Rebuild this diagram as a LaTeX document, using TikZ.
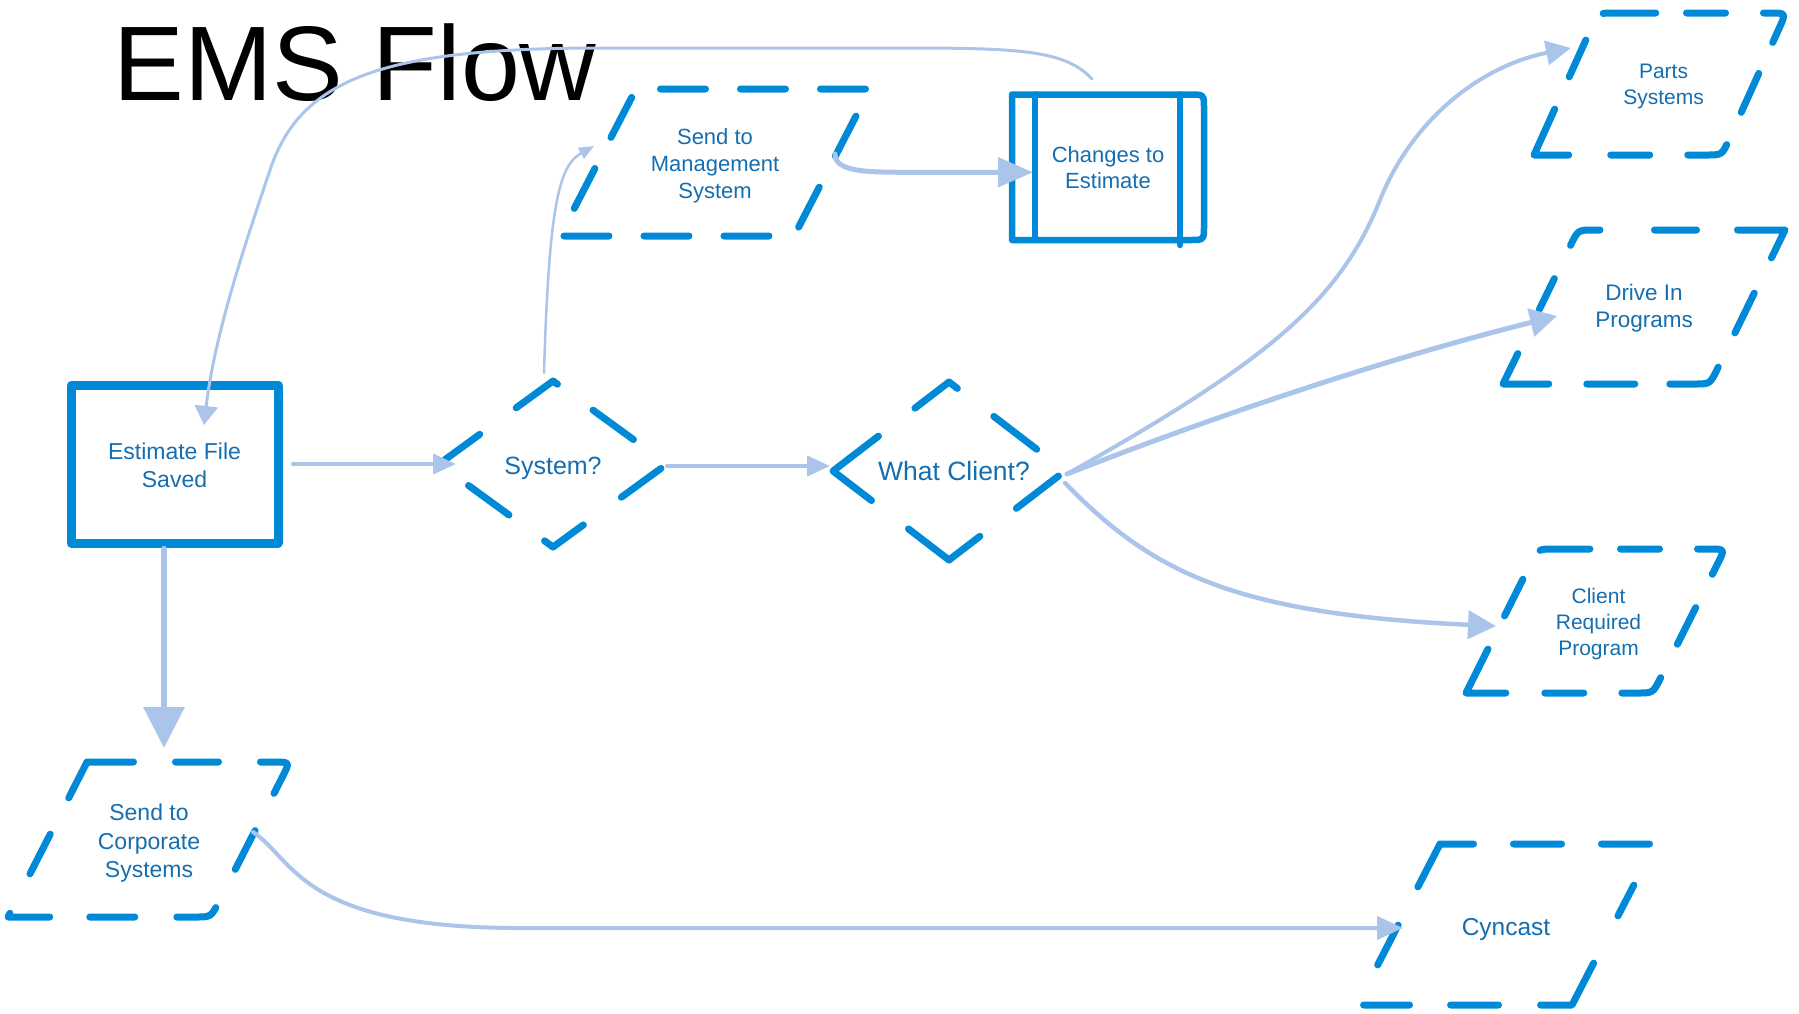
\documentclass[tikz,border=0pt]{standalone}
\usepackage{fontspec}
\setmainfont{Liberation Sans}
\usetikzlibrary{arrows.meta,calc}
\definecolor{shpblue}{RGB}{0,137,214}
\definecolor{txtblue}{RGB}{20,110,175}
\definecolor{lnblue}{RGB}{170,196,234}
\newcommand{\mystrut}[1]{\rule{0pt}{#1}}
\begin{document}
\begin{tikzpicture}[x=1pt,y=-1pt,
  lbl/.style={inner sep=0pt, outer sep=0pt, align=center, text=txtblue},
  dsh/.style={draw=shpblue, line width=7pt, line cap=round, line join=round},
  solidshp/.style={draw=shpblue, line width=6.5pt, line cap=round, line join=round},
  conn/.style={draw=lnblue, fill=none, line cap=round, line join=round}]
\useasboundingbox (0,0) rectangle (1799,1013);

% title
\node[anchor=base west, inner sep=0pt, font=\fontsize{106}{120}\selectfont] (title) at (113.5,100.5) {EMS Flow};

% nodes
\node[lbl, minimum width=207pt, minimum height=158pt, draw=shpblue, line width=9pt, line join=round,
      font=\fontsize{23}{28.5}\selectfont] (est) at (174.5,464) {\mystrut{19pt}Estimate File\\Saved};
\node[lbl, minimum width=310pt, minimum height=147pt, font=\fontsize{22}{27}\selectfont] (mgmt) at (715,162.5) {\mystrut{23pt}Send to\\Management\\System};
\node[lbl, minimum width=192pt, minimum height=145.5pt, font=\fontsize{22}{25.8}\selectfont] (chg) at (1108,167.25) {Changes to\\Estimate};
\node[lbl, minimum width=228pt, minimum height=166pt, font=\fontsize{25}{30}\selectfont] (sys) at (553,464) {\mystrut{25.3pt}System?};
\node[lbl, minimum width=232pt, minimum height=178pt, font=\fontsize{26.5}{32}\selectfont] (wc) at (949,471) {\hspace*{10pt}What Client?};
\node[lbl, minimum width=252pt, minimum height=142pt, font=\fontsize{21}{26}\selectfont] (parts) at (1660,84) {\hspace*{7pt}\mystrut{19.3pt}Parts\\\hspace*{7pt}Systems};
\node[lbl, minimum width=282pt, minimum height=154pt, font=\fontsize{22.5}{27}\selectfont] (drive) at (1644,307) {\mystrut{19.4pt}Drive In\\Programs};
\node[lbl, minimum width=259pt, minimum height=144pt, font=\fontsize{21}{25.8}\selectfont] (client) at (1595.5,621) {\hspace*{6pt}\mystrut{21.3pt}Client\\\hspace*{6pt}Required\\\hspace*{6pt}Program};
\node[lbl, minimum width=282pt, minimum height=155pt, font=\fontsize{23}{28.2}\selectfont] (corp) at (149,839.5) {\mystrut{23.8pt}Send to\\Corporate\\Systems};
\node[lbl, minimum width=298pt, minimum height=161pt, font=\fontsize{24.5}{29}\selectfont] (cyn) at (1506,924.5) {\mystrut{26.9pt}Cyncast};

% Changes to Estimate (predefined process)
\draw[solidshp] (chg.south west) -- (chg.north west)
  -- ($(chg.north east)!14pt!(chg.north west)$) .. controls (chg.north east) .. ($(chg.north east)!14pt!(chg.south east)$)
  -- ($(chg.south east)!14pt!(chg.north east)$) .. controls (chg.south east) .. ($(chg.south east)!14pt!(chg.south west)$)
  -- cycle;
\draw[solidshp] ($(chg.north west)+(23,0)$) -- ($(chg.south west)+(23,0)$);
\draw[solidshp] ($(chg.north east)+(-24,0)$) -- ($(chg.south east)+(-24,5)$);

% diamonds
\draw[dsh, dash pattern=on 51pt off 44pt on 50pt off 49pt on 49pt off 47pt on 48pt off 44pt on 50pt off 44pt on 43pt off 45pt, dash phase=45.5pt]
  (sys.north) -- (sys.east) -- (sys.south) -- (sys.west) -- cycle;
\draw[dsh, dash pattern=on 53.4pt off 46pt on 54pt off 44pt on 53pt off 46pt on 90pt off 46.6pt on 105.8pt off 46pt, dash phase=42.9pt]
  (wc.north) -- (wc.east) -- (wc.south) -- (wc.west) -- cycle;

% Send to Management System
\coordinate (mTL) at ($(mgmt.north west)+(76,0)$);
\coordinate (mBR) at ($(mgmt.south east)+(-76,0)$);
\draw[dsh, dash pattern=on 45pt off 35pt, dash phase=55.5pt]
  (mTL) -- (mgmt.north east) -- (mBR) -- (mgmt.south west) -- cycle;

% Parts Systems
\coordinate (pS) at ($(parts.north west)+(133,0)$);
\coordinate (pTL) at ($(parts.north west)+(64,0)$);
\coordinate (pBR) at ($(parts.south east)+(-64,0)$);
\draw[dsh, dash pattern=on 39pt off 38pt on 50pt off 34pt on 42.6pt off 35.5pt on 43.8pt off 38pt on 39pt off 42pt on 85pt off 35.5pt on 40.3pt off 33pt on 52.6pt off 39pt, dash phase=667.8pt]
  (pS) -- ($(parts.north east)!16pt!(pTL)$) .. controls (parts.north east) .. ($(parts.north east)!16pt!(pBR)$)
  -- ($(pBR)!16pt!(parts.north east)$) .. controls (pBR) .. ($(pBR)!16pt!(parts.south west)$)
  -- (parts.south west)
  -- ($(pTL)!16pt!(parts.south west)$) .. controls (pTL) .. ($(pTL)!16pt!(parts.north east)$)
  -- cycle;

% Drive In Programs
\coordinate (dS) at ($(drive.north west)+(122,0)$);
\coordinate (dTL) at ($(drive.north west)+(75,0)$);
\coordinate (dBR) at ($(drive.south east)+(-75,0)$);
\draw[dsh, dash pattern=on 42pt off 41pt on 78.5pt off 39.2pt on 44.3pt off 38pt on 57.3pt off 35pt on 48pt off 38pt on 79.6pt off 49.3pt on 34.1pt off 37pt on 37.3pt off 58pt, dash phase=727.1pt]
  (dS) -- (drive.north east)
  -- ($(dBR)!16pt!(drive.north east)$) .. controls (dBR) .. ($(dBR)!16pt!(drive.south west)$)
  -- (drive.south west)
  -- ($(dTL)!16pt!(drive.south west)$) .. controls (dTL) .. ($(dTL)!16pt!(drive.north east)$)
  -- cycle;

% Client Required Program
\coordinate (cS) at ($(client.north west)+(135,0)$);
\coordinate (cTL) at ($(client.north west)+(72,0)$);
\coordinate (cBR) at ($(client.south east)+(-72,0)$);
\draw[dsh, dash pattern=on 39pt off 38pt on 50.8pt off 37.2pt on 41pt off 37.3pt on 46.7pt off 38pt on 39pt off 39pt on 88.9pt off 37.1pt on 41pt off 34pt on 50pt off 39pt, dash phase=676.5pt]
  (cS) -- ($(client.north east)!16pt!(cTL)$) .. controls (client.north east) .. ($(client.north east)!16pt!(cBR)$)
  -- ($(cBR)!16pt!(client.north east)$) .. controls (cBR) .. ($(cBR)!16pt!(client.south west)$)
  -- (client.south west)
  -- ($(cTL)!16pt!(client.south west)$) .. controls (cTL) .. ($(cTL)!16pt!(client.north east)$)
  -- cycle;

% Cyncast
\coordinate (yTL) at ($(cyn.north west)+(83,0)$);
\coordinate (yBR) at ($(cyn.south east)+(-83,0)$);
\draw[dsh, dash pattern=on 81.7pt off 40pt on 48pt off 40pt on 48pt off 51.7pt on 34.7pt off 53.1pt on 78.6pt off 42pt on 48pt off 41pt on 46pt off 51.6pt on 44.8pt off 43pt, dash phase=48.2pt]
  (yTL) -- (cyn.north east) -- (yBR) -- (cyn.south west) -- cycle;

% Send to Corporate Systems
\coordinate (rTL) at ($(corp.north west)+(79,0)$);
\coordinate (rBR) at ($(corp.south east)+(-79,0)$);
\draw[dsh, dash pattern=on 93.5pt off 42pt on 43pt off 42pt on 59.7pt off 41.8pt on 43.5pt off 42.9pt on 43.1pt off 42pt on 45pt off 40pt on 46pt off 44.2pt on 44.6pt off 40.7pt, dash phase=47pt]
  (rTL) -- ($(corp.north east)!16pt!(rTL)$) .. controls (corp.north east) .. ($(corp.north east)!16pt!(rBR)$)
  -- ($(rBR)!16pt!(corp.north east)$) .. controls (rBR) .. ($(rBR)!16pt!(corp.south west)$)
  -- (corp.south west) -- cycle;

% connectors
\draw[conn, line width=4pt, -{Triangle[length=23pt,width=20pt]}]
  ([xshift=15pt]est.east) -- ([xshift=17pt]sys.west);
\draw[conn, line width=4pt, -{Triangle[length=23pt,width=20pt]}]
  ($(sys.east)+(0,2)$) -- ($(sys.east -| wc.west)+(-3,2)$);
\draw[conn, line width=2.5pt, -{Triangle[length=15pt,width=12pt]}]
  ($(sys.north)+(-9,-8)$) .. controls +(5,-173) and +(-34,19) .. ($(mgmt.west)+(34,-16.5)$);
\draw[conn, line width=5pt, -{Triangle[length=35pt,width=29pt]}]
  ($(mgmt.east)+(-35,-8.5)$) .. controls +(0,16) and +(-40,0) .. ($(chg.west)+(-112,5)$) -- ($(chg.west)+(21,5)$);
\draw[conn, line width=3pt, -{Triangle[length=19pt,width=23pt]}]
  ($(chg.north)+(-16,-15.5)$) .. controls (1065,50) and (1020,48) .. (900,48) -- (600,48)
  .. controls (380,48) and (300,80) .. (270,170)
  .. controls (250,230) and (215,330) .. ($(est.north)+(29.5,40)$);
\draw[conn, line width=6.5pt, -{Triangle[length=41pt,width=40pt]}]
  ($(est.south)+(-10.5,6)$) -- ($(corp.north)+(15,-14)$);
\draw[conn, line width=4pt, -{Triangle[length=25pt,width=24pt]}]
  ($(wc.east)+(2,3)$) .. controls (1270,360) and (1340,300) .. (1380,200)
  .. controls (1412,120) and (1480,66) .. ($(parts.west)+(37,-36)$);
\draw[conn, line width=5pt, -{Triangle[length=27pt,width=28pt]}]
  ($(wc.east)+(2,3)$) .. controls (1230,410) and (1400,355) .. ($(drive.west)+(54,9)$);
\draw[conn, line width=4.5pt, -{Triangle[length=28pt,width=28pt]}]
  ($(wc.east)+(0,12)$) .. controls (1150,570) and (1230,614) .. ($(client.west)+(30,5)$);
\draw[conn, line width=4pt, -{Triangle[length=26pt,width=23pt]}]
  ($(corp.east)+(-37,-7.5)$) .. controls (295,860) and (300,928) .. (520,928) -- ($(cyn.west)+(46,3.5)$);
\end{tikzpicture}
\end{document}
